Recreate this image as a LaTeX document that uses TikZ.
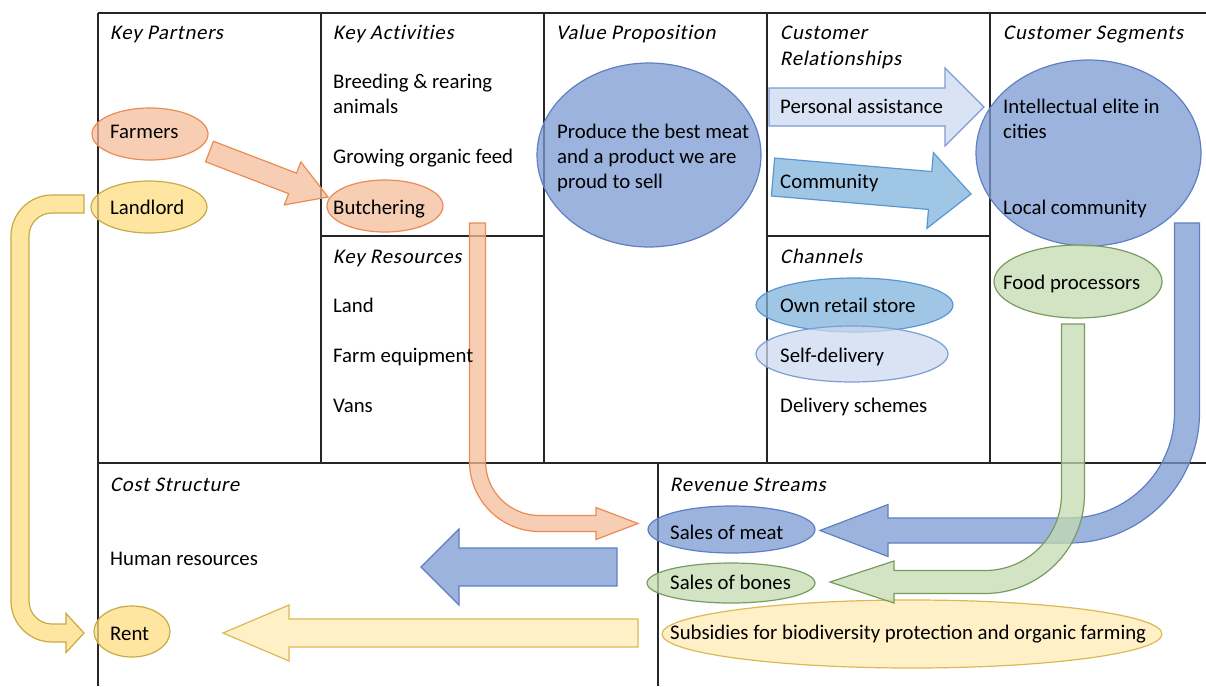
\documentclass[tikz,border=0pt]{standalone}
\usepackage{fontspec}
\setmainfont{Carlito}
\newfontfamily\slantfont[FakeSlant=0.2,LetterSpace=3.5,Ligatures=NoCommon]{Carlito}
\usetikzlibrary{shapes.geometric}
\newcommand\myfs{\fontsize{20.8}{25}\selectfont}
\definecolor{blueF}{RGB}{123,154,211}
\definecolor{blueD}{RGB}{94,128,194}
\definecolor{lblueF}{RGB}{128,179,222}
\definecolor{lblueD}{RGB}{90,150,210}
\definecolor{pblueF}{RGB}{204,218,239}
\definecolor{pblueD}{RGB}{124,156,212}
\definecolor{greenF}{RGB}{195,219,176}
\definecolor{greenD}{RGB}{120,155,95}
\definecolor{orangeF}{RGB}{244,190,155}
\definecolor{orangeD}{RGB}{232,140,85}
\definecolor{yellowF}{RGB}{255,222,128}
\definecolor{yellowD}{RGB}{200,170,70}
\definecolor{pyellowF}{RGB}{255,235,182}
\definecolor{pyellowD}{RGB}{220,185,85}
\tikzset{
  lbl/.style={anchor=base west, inner sep=0pt, font=\myfs},
  ttl/.style={anchor=base west, inner sep=0pt, font=\myfs\slantfont},
  shp/.style={line width=1.2pt, fill opacity=0.75, line join=miter},
  ell/.style={shp, ellipse, inner sep=0pt},
  gridline/.style={line width=1.5pt, draw=black!85},
  cblue/.style={fill=blueF, draw=blueD},
  clblue/.style={fill=lblueF, draw=lblueD},
  cpblue/.style={fill=pblueF, draw=pblueD},
  cgreen/.style={fill=greenF, draw=greenD},
  corange/.style={fill=orangeF, draw=orangeD},
  cyellow/.style={fill=yellowF, draw=yellowD},
  cpyellow/.style={fill=pyellowF, draw=pyellowD},
}
\begin{document}
\begin{tikzpicture}[x=1pt,y=-1pt]
\useasboundingbox (0,0) rectangle (1206,686);
% grid
\draw[gridline] (98,13) -- (1206,13);
\draw[gridline] (98,13) -- (98,686);
\draw[gridline] (321,13) -- (321,463);
\draw[gridline] (544,13) -- (544,463);
\draw[gridline] (767,13) -- (767,463);
\draw[gridline] (990,13) -- (990,463);
\draw[gridline] (321,236) -- (544,236);
\draw[gridline] (767,236) -- (990,236);
\draw[gridline] (98,463) -- (1206,463);
\draw[gridline] (658,463) -- (658,686);

% ellipses
\node[ell, corange, minimum width=116pt, minimum height=52pt] (farmersE) at (150,134) {};
\node[ell, cyellow, minimum width=116pt, minimum height=52pt] (landlordE) at (149,207) {};
\node[ell, corange, minimum width=116pt, minimum height=52pt] (butchE) at (385,206) {};
\node[ell, cblue, minimum width=224pt, minimum height=184pt] (vpE) at (649,155) {};
\node[ell, cblue, minimum width=225pt, minimum height=186pt] (csE) at (1088.5,153) {};
\node[ell, cgreen, minimum width=168pt, minimum height=73pt] (foodE) at (1078,281.5) {};
\node[ell, clblue, minimum width=197pt, minimum height=54pt] (retailE) at (854.5,305) {};
\node[ell, cpblue, minimum width=192pt, minimum height=56pt] (selfE) at (852,354) {};
\node[ell, cblue, minimum width=167pt, minimum height=47pt] (meatE) at (731.5,529.5) {};
\node[ell, cgreen, minimum width=168pt, minimum height=40pt] (bonesE) at (731,583) {};
\node[ell, cpyellow, minimum width=500pt, minimum height=68pt] (subsE) at (912,634) {};
\node[ell, cyellow, minimum width=76pt, minimum height=51pt] (rentE) at (132,631.5) {};

% straight block arrows
\draw[shp, corange] (213.44,141.23) -- (296.53,173.13) -- (300.83,161.93) -- (328.07,197.02) -- (284.35,204.87) -- (288.65,193.67) -- (205.56,161.77) -- cycle;
\draw[shp, cpblue] (769,88) -- (945,88) -- (945,68) -- (984,107) -- (945,146) -- (945,126) -- (769,126) -- cycle;
\draw[shp, clblue] (774.63,158.07) -- (931.75,171.57) -- (933.37,152.64) -- (970.97,194.01) -- (926.87,228.36) -- (928.49,209.43) -- (771.37,195.93) -- cycle;
\draw[shp, cblue] (617,548) -- (459,548) -- (459,529) -- (421,567) -- (459,605) -- (459,586) -- (617,586) -- cycle;
\draw[shp, cpyellow] (638,619) -- (289,619) -- (289,605) -- (223,633) -- (289,661) -- (289,647) -- (638,647) -- cycle;

% bent arrows
\draw[shp, corange] (469.5,223) -- (469.5,461.5) .. controls (469.5,500.2) and (500.8,531.5) .. (539.5,531.5) -- (596,531.5) -- (596,539.5) -- (638,523.5) -- (596,507.5) -- (596,515.5) -- (539.5,515.5) .. controls (509.7,515.5) and (485.5,491.3) .. (485.5,461.5) -- (485.5,223) -- cycle;
\draw[shp, cyellow] (84,195) -- (52,195) .. controls (29.36,195) and (11,213.36) .. (11,236) -- (11,601) .. controls (11,623.64) and (29.36,642) .. (52,642) -- (66,642) -- (66,652.5) -- (84,633) -- (66,613.5) -- (66,624) -- (52,624) .. controls (39.3,624) and (29,613.7) .. (29,601) -- (29,236) .. controls (29,223.3) and (39.3,213) .. (52,213) -- (84,213) -- cycle;
\draw[shp, cblue] (1174.5,223) -- (1199.5,223) -- (1199.5,412.5) .. controls (1199.5,484.57) and (1141.07,543) .. (1069,543) -- (888,543) -- (888,556.5) -- (820,530.5) -- (888,504.5) -- (888,518) -- (1069,518) .. controls (1127.27,518) and (1174.5,470.77) .. (1174.5,412.5) -- cycle;
\draw[shp, cgreen] (1061.5,324) -- (1084.5,324) -- (1084.5,494) .. controls (1084.5,548.95) and (1039.95,593.5) .. (985,593.5) -- (894,593.5) -- (894,603) -- (830,582) -- (894,561) -- (894,570.5) -- (985,570.5) .. controls (1027.25,570.5) and (1061.5,536.25) .. (1061.5,494) -- cycle;

% titles
\node[ttl] (tKP) at (110,39) {Key Partners};
\node[ttl] (tKA) at (333,39) {Key Activities};
\node[ttl] (tVP) at (556,39) {Value Proposition};
\node[ttl] (tCR1) at (780,39) {Customer};
\node[ttl] (tCR2) at (780,65) {Relationships};
\node[ttl] (tCS) at (1003,39) {Customer Segments};
\node[ttl] (tKR) at (333,263) {Key Resources};
\node[ttl] (tCH) at (780,263) {Channels};
\node[ttl] (tCost) at (110,491) {Cost Structure};
\node[ttl] (tRS) at (670,491) {Revenue Streams};

% texts
\node[lbl] (farmers) at (110,138) {Farmers};
\node[lbl] (landlord) at (110,214) {Landlord};
\node[lbl] (ka1) at (333,88) {Breeding \& rearing};
\node[lbl] (ka2) at (333,113) {animals};
\node[lbl] (ka3) at (333,163) {Growing organic feed};
\node[lbl] (butch) at (333,214) {Butchering};
\node[lbl] (kr1) at (333,312) {Land};
\node[lbl] (kr2) at (333,362) {Farm equipment};
\node[lbl] (kr3) at (333,412) {Vans};
\node[lbl] (vp1) at (557,138) {Produce the best meat};
\node[lbl] (vp2) at (557,163) {and a product we are};
\node[lbl] (vp3) at (557,188) {proud to sell};
\node[lbl] (pa) at (780,113) {Personal assistance};
\node[lbl] (comm) at (780,188) {Community};
\node[lbl] (ch1) at (780,312) {Own retail store};
\node[lbl] (ch2) at (780,362) {Self-delivery};
\node[lbl] (ch3) at (780,412) {Delivery schemes};
\node[lbl] (cs1) at (1003,113) {Intellectual elite in};
\node[lbl] (cs2) at (1003,138) {cities};
\node[lbl] (cs3) at (1003,214) {Local community};
\node[lbl] (cs4) at (1003,289) {Food processors};
\node[lbl] (hr) at (110,565) {Human resources};
\node[lbl] (rent) at (110,640) {Rent};
\node[lbl] (meat) at (670,539) {Sales of meat};
\node[lbl] (bones) at (670,589) {Sales of bones};
\node[lbl] (subs) at (670,639) {Subsidies for biodiversity protection and organic farming};
\end{tikzpicture}
\end{document}
